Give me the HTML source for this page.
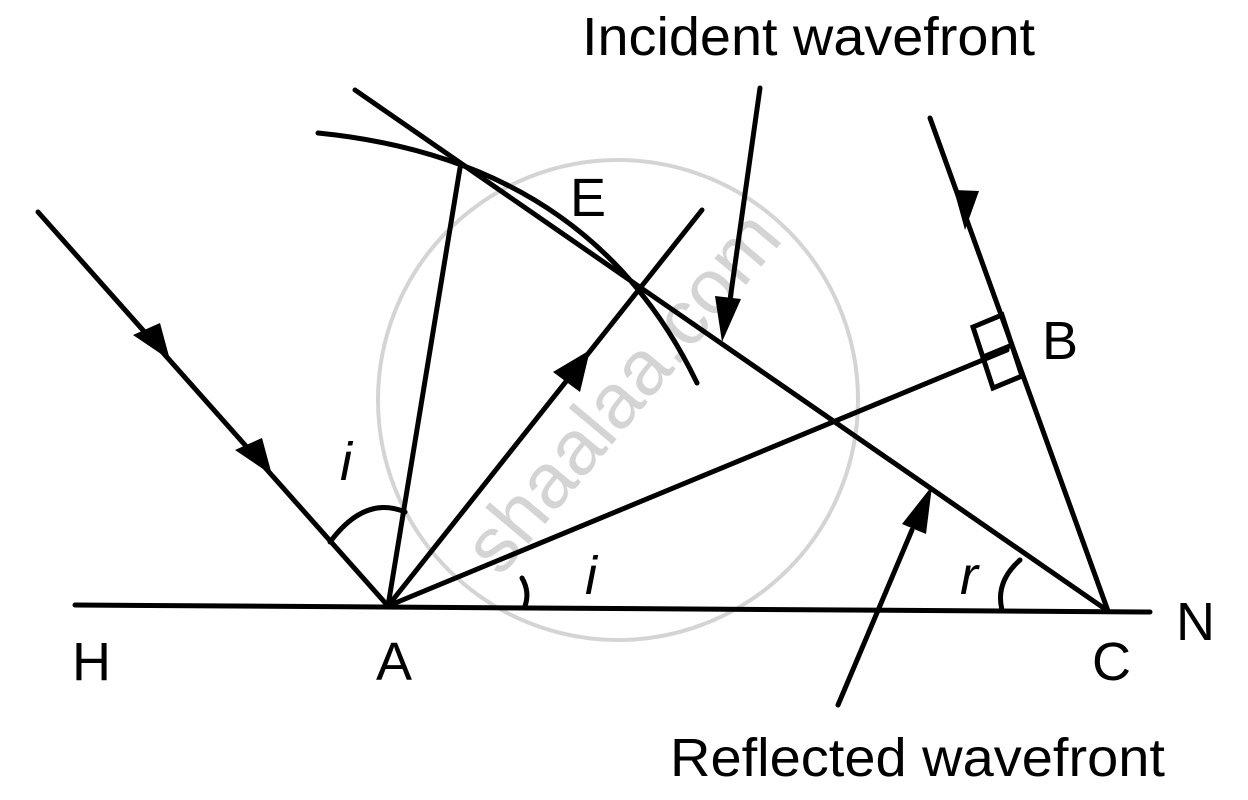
<!DOCTYPE html>
<html><head><style>body{margin:0;background:#fff}svg{display:block}</style></head><body>
<svg width="1248" height="800" viewBox="0 0 1248 800" xmlns="http://www.w3.org/2000/svg">
<g fill="none" stroke="#d4d4d4" stroke-width="4"><circle cx="618" cy="400" r="240"/></g>
<text x="0" y="0" transform="translate(500,578) rotate(-50)" font-family="Liberation Sans, sans-serif" font-size="78" fill="#d4d4d4">shaalaa.com</text>
<g stroke="#000" stroke-width="5" fill="none" stroke-linecap="round">
<line x1="75" y1="605" x2="1150" y2="612"/>
<line x1="38" y1="212" x2="388" y2="606"/>
<line x1="388" y1="606" x2="460" y2="168"/>
<line x1="388" y1="606" x2="702" y2="210"/>
<line x1="388" y1="606" x2="1007" y2="350"/>
<line x1="355" y1="90" x2="1108" y2="611"/>
<path d="M318,133 Q590,160 697,383"/>
<line x1="930" y1="118" x2="1108" y2="611"/>
<path d="M973,327 L1002,315 L1022,376 L993,388 Z"/>
<line x1="983" y1="357" x2="1012" y2="345"/>
<line x1="760" y1="88" x2="730" y2="300"/>
<line x1="838" y1="705" x2="912" y2="530"/>
<path d="M330,542 Q365,495 405,512"/>
<path d="M522,578 Q530,592 525,606"/>
<path d="M1020,560 Q995,582 1002,610"/>
</g>
<g fill="#000">
<polygon points="170,360 133,335 160,323"/>
<polygon points="272,475 235,450 262,438"/>
<polygon points="590,350 580,392 553,372"/>
<polygon points="965,230 954,190 979,191"/>
<polygon points="722,342 715,296 741,299"/>
<polygon points="932,486 926,534 902,524"/>
</g>
<g font-family="Liberation Sans, sans-serif" font-size="54" fill="#000">
<text x="582" y="55" textLength="453" lengthAdjust="spacingAndGlyphs">Incident wavefront</text>
<text x="670" y="776" textLength="495" lengthAdjust="spacingAndGlyphs">Reflected wavefront</text>
<text x="570" y="216">E</text>
<text x="1042" y="359">B</text>
<text x="1176" y="640">N</text>
<text x="72" y="680">H</text>
<text x="376" y="680">A</text>
<text x="1092" y="680">C</text>
<text x="340" y="480" font-style="italic">i</text>
<text x="585" y="594" font-style="italic">i</text>
<text x="960" y="594" font-style="italic">r</text>
</g>
</svg>
</body></html>
